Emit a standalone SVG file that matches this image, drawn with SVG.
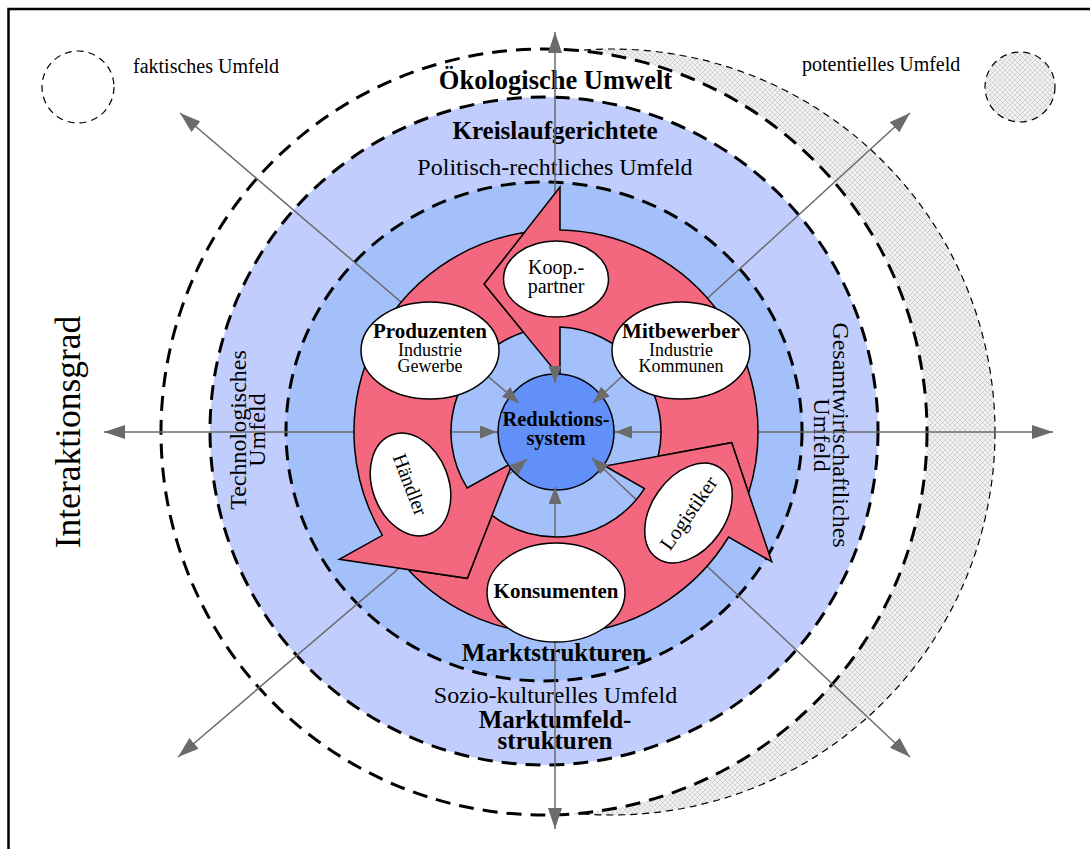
<svg xmlns="http://www.w3.org/2000/svg" width="1090" height="849" viewBox="0 0 1090 849">
<defs>
<style>
.t{font-family:"Liberation Serif","Times New Roman",serif;fill:#000}
.b{font-weight:bold}
.thick{fill:none;stroke:#000;stroke-width:3;stroke-dasharray:15 9}
.thin{stroke:#000;stroke-width:1.2;stroke-dasharray:7 5}
.ray{stroke:#6b6b6b;stroke-width:1.5;fill:none}
.red{fill:#f4687f;stroke:#000;stroke-width:1.5;stroke-linejoin:miter}
.node{fill:#fff;stroke:#000;stroke-width:1.5}
</style>
<pattern id="hatch" patternUnits="userSpaceOnUse" width="5" height="5">
<rect width="5" height="5" fill="#f2f2f2"/>
<path d="M0,0 L5,5 M5,0 L0,5" stroke="#b4b4b4" stroke-width="0.5"/>
</pattern>
<marker id="outhead" markerUnits="userSpaceOnUse" markerWidth="22" markerHeight="14" refX="21" refY="7" orient="auto"><path d="M0,0 L21,7 L0,14 Z" fill="#6b6b6b"/></marker>
<marker id="inhead" markerUnits="userSpaceOnUse" markerWidth="18" markerHeight="13" refX="17" refY="6.5" orient="auto"><path d="M0,0 L17,6.5 L0,13 Z" fill="#6b6b6b"/></marker>
</defs>
<rect width="1090" height="849" fill="#fff"/>
<rect x="8.5" y="9" width="1200" height="1000" fill="none" stroke="#000" stroke-width="2.5"/>

<g id="legend">
<circle cx="78" cy="87" r="36" fill="none" class="thin"/>
<text class="t" x="133" y="73" font-size="20">faktisches Umfeld</text>
<circle cx="1020" cy="87" r="35" fill="url(#hatch)" class="thin"/>
<text class="t" x="802" y="71" font-size="20">potentielles Umfeld</text>
</g>

<g id="rings">
<circle cx="612" cy="432" r="383" fill="url(#hatch)" class="thin"/>
<circle cx="544" cy="432" r="383" fill="#fff"/>
<circle cx="544" cy="432" r="383" class="thick"/>
<circle cx="544" cy="431" r="334" fill="#c1cdfd"/>
<circle cx="544" cy="431" r="334" class="thick"/>
<ellipse cx="544" cy="431.5" rx="258" ry="249.5" fill="#a3c0fb"/>
<ellipse cx="544" cy="431.5" rx="258" ry="249.5" class="thick"/>
</g>

<g id="ring-labels">
<text class="t b" x="555.5" y="89" font-size="26.5" text-anchor="middle">Ökologische Umwelt</text>
<text class="t b" x="555" y="139" font-size="25" text-anchor="middle">Kreislaufgerichtete</text>
<text class="t" x="555" y="175" font-size="24" text-anchor="middle">Politisch-rechtliches Umfeld</text>
<text class="t b" x="554" y="661" font-size="25" text-anchor="middle">Marktstrukturen</text>
<text class="t" x="555.5" y="703" font-size="24" text-anchor="middle">Sozio-kulturelles Umfeld</text>
<text class="t b" x="555" y="728" font-size="25" text-anchor="middle">Marktumfeld-</text>
<text class="t b" x="555" y="749" font-size="25" text-anchor="middle">strukturen</text>
<text class="t" transform="translate(246,430) rotate(-90)" font-size="24" text-anchor="middle"><tspan x="0" y="0">Technologisches</tspan><tspan x="0" y="18.5">Umfeld</tspan></text>
<text class="t" transform="translate(833,435) rotate(90)" font-size="24" text-anchor="middle"><tspan x="0" y="0">Gesamtwirtschaftliches</tspan><tspan x="0" y="19.5">Umfeld</tspan></text>
<text class="t" transform="translate(80,432) rotate(-90)" font-size="35.5" text-anchor="middle">Interaktionsgrad</text>
</g>

<g id="connectors">
<path class="ray" marker-end="url(#outhead)" d="M555,383 L555,32"/>
<path class="ray" marker-end="url(#outhead)" d="M555,487 L555,829"/>
<path class="ray" marker-end="url(#outhead)" d="M497,432 L104,432"/>
<path class="ray" marker-end="url(#outhead)" d="M615,432 L1053,432"/>
<path class="ray" marker-end="url(#outhead)" d="M519,403 L180,113"/>
<path class="ray" marker-end="url(#outhead)" d="M593,403 L910,113"/>
<path class="ray" marker-end="url(#outhead)" d="M527,459 L178,757"/>
<path class="ray" marker-end="url(#outhead)" d="M592,458 L910,757"/>
</g>

<g id="cycle-arrows">
<path id="arrow-top" class="red" d="M748.6,492.9 A202,202 0 0 0 560,230 L560,187 L484,284 L560,377 L560,327.1 A105,105 0 0 1 658.2,456.2 L731.7,442.7 Z"/>
<path id="arrow-right" class="red" d="M408,569.5 A202,202 0 0 0 728.6,537 L771.7,561.7 L731.7,442.7 L605,466 L644.4,488.6 A105,105 0 0 1 492,515.3 L467.3,578.3 Z"/>
<path id="arrow-left" class="red" d="M524.4,232.5 A202,202 0 0 0 382.4,535.3 L339.3,559.3 L467.3,578.3 L512.7,462.7 L467.2,488 A105,105 0 0 1 523.4,332.2 L484,284 Z"/>
</g>

<g id="reduktionssystem">
<circle cx="556" cy="432" r="58" fill="#6090f8" stroke="#000" stroke-width="1.5"/>
<text class="t b" x="556" y="426" font-size="20.5" text-anchor="middle">Reduktions-</text>
<text class="t b" x="556" y="445" font-size="20.5" text-anchor="middle">system</text>
</g>

<g id="koop-partner">
<ellipse class="node" cx="556" cy="279" rx="52.5" ry="38"/>
<text class="t" x="556" y="274" font-size="20" text-anchor="middle">Koop.-</text>
<text class="t" x="556" y="293" font-size="20" text-anchor="middle">partner</text>
</g>

<g id="produzenten">
<ellipse class="node" cx="430" cy="350.5" rx="69" ry="48.5"/>
<text class="t b" x="430" y="338" font-size="21" text-anchor="middle">Produzenten</text>
<text class="t" x="430" y="356" font-size="18" text-anchor="middle">Industrie</text>
<text class="t" x="430" y="372" font-size="18" text-anchor="middle">Gewerbe</text>
</g>

<g id="mitbewerber">
<ellipse class="node" cx="681" cy="350.5" rx="69" ry="48.5"/>
<text class="t b" x="681" y="338" font-size="21" text-anchor="middle">Mitbewerber</text>
<text class="t" x="681" y="356" font-size="18" text-anchor="middle">Industrie</text>
<text class="t" x="681" y="372" font-size="18" text-anchor="middle">Kommunen</text>
</g>

<g id="haendler" transform="translate(410.5,484.5) rotate(69)">
<ellipse class="node" cx="0" cy="0" rx="53" ry="38"/>
<text class="t" x="0" y="7" font-size="20" text-anchor="middle">Händler</text>
</g>

<g id="logistiker" transform="translate(688.5,513) rotate(-55)">
<ellipse class="node" cx="0" cy="0" rx="55" ry="37"/>
<text class="t" x="0" y="7" font-size="20.5" text-anchor="middle">Logistiker</text>
</g>

<g id="konsumenten">
<ellipse class="node" cx="556" cy="592.5" rx="69" ry="49.5"/>
<text class="t b" x="556" y="598" font-size="21" text-anchor="middle">Konsumenten</text>
</g>

<g id="connector-heads">
<path class="ray" marker-end="url(#inhead)" d="M555,366 L555,383"/>
<path class="ray" marker-end="url(#inhead)" d="M555,504 L555,487"/>
<path class="ray" marker-end="url(#inhead)" d="M480,432 L497,432"/>
<path class="ray" marker-end="url(#inhead)" d="M632,432 L615,432"/>
<path class="ray" marker-end="url(#inhead)" d="M506.1,392 L519,403"/>
<path class="ray" marker-end="url(#inhead)" d="M605.5,391.5 L593,403"/>
<path class="ray" marker-end="url(#inhead)" d="M514.1,470 L527,459"/>
<path class="ray" marker-end="url(#inhead)" d="M604.4,469.6 L592,458"/>
</g>
</svg>
